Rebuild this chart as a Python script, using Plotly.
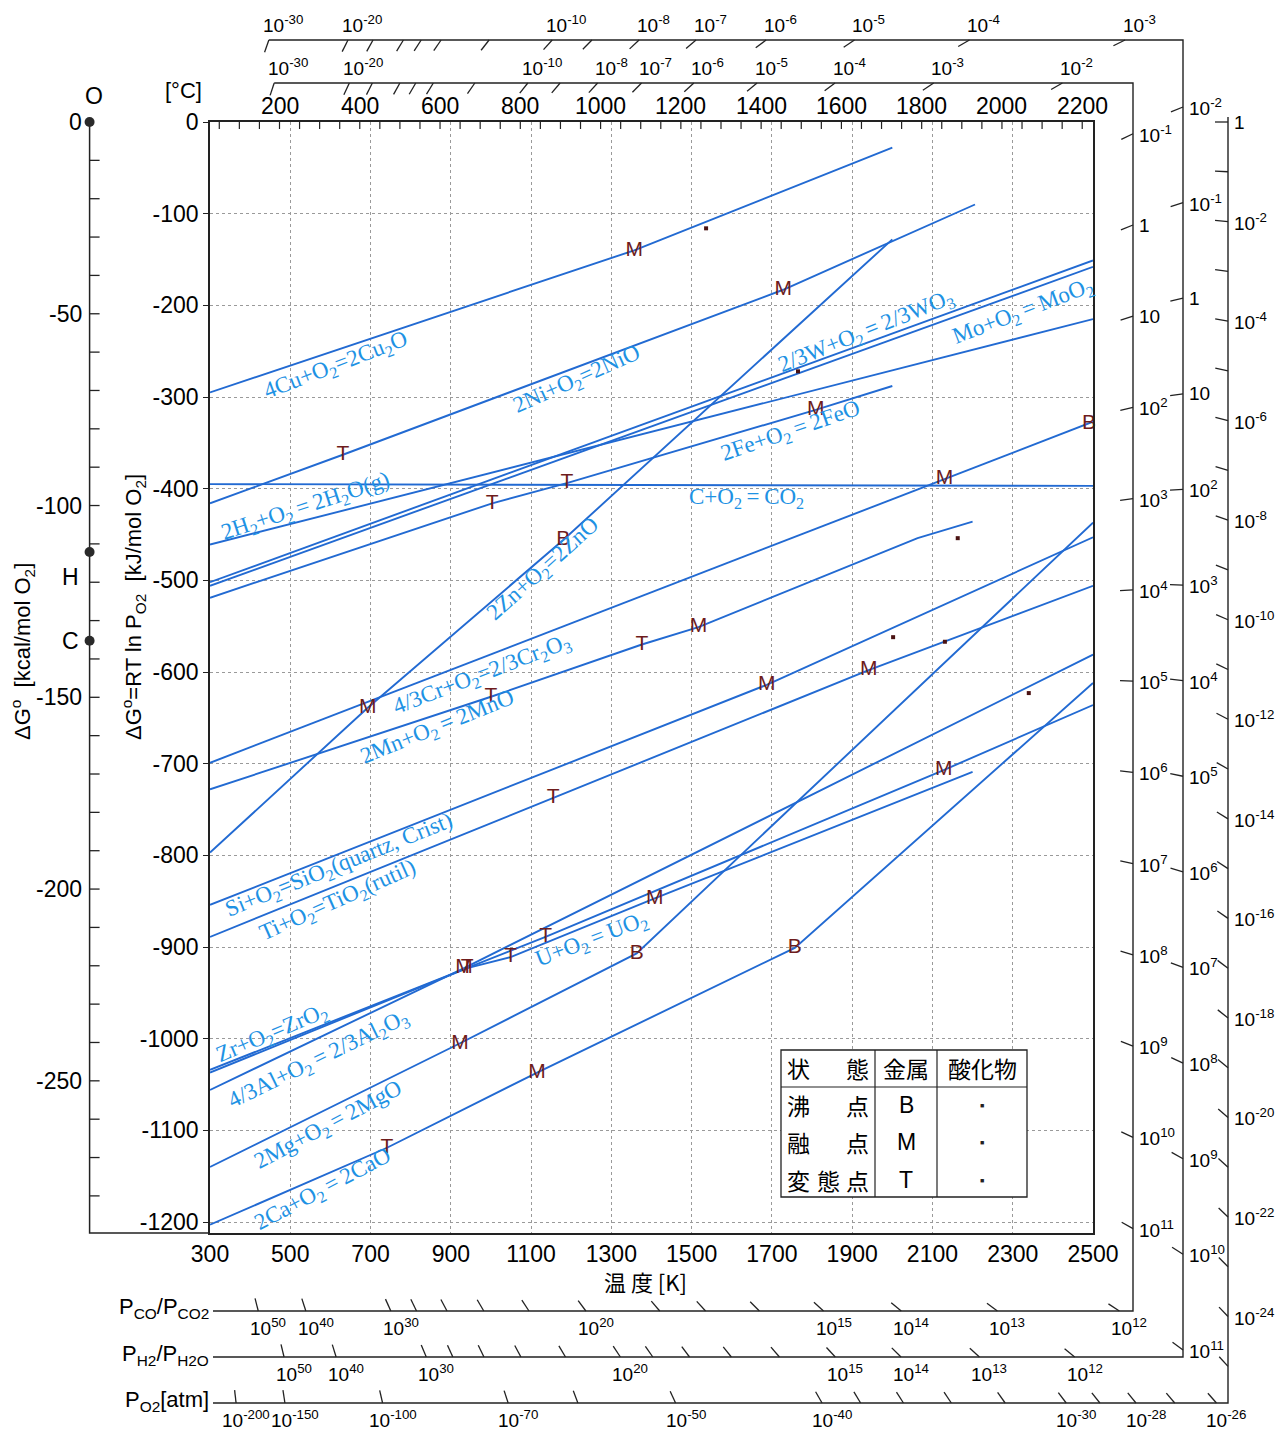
import numpy as np
import plotly.graph_objects as go

# ---------------- data ----------------
R = 8.314e-3          # kJ/(mol K)
LN10 = np.log(10.0)
KCAL = 4.184          # kJ per kcal

# Ellingham lines: temperature [K] and dG [kJ/mol O2]
CU_T = [300, 1357, 2000];               CU_G = [-295, -140, -28]
NI_T = [300, 631, 1728, 2206];          NI_G = [-416, -363, -183, -90]
W_T = [300, 2500];                      W_G = [-502, -151]
MO_T = [300, 2500];                     MO_G = [-506, -158]
H2O_T = [300, 2500];                    H2O_G = [-461, -215]
FE_T = [300, 1003, 1189, 1809, 2000];   FE_G = [-519, -416, -394, -314, -288]
C_T = [300, 2500];                      C_G = [-395, -397]
ZN_T = [300, 693, 1180, 2000];          ZN_G = [-797, -639, -456, -128]
CR_T = [300, 2500];                     CR_G = [-699, -327]
MN_T = [300, 1000, 1376, 1517, 2063, 2200]; MN_G = [-728, -627, -570, -551, -454, -436]
SI_T = [300, 1687, 2500];               SI_G = [-854, -614, -453]
TI_T = [300, 1155, 1941, 2500];         TI_G = [-889, -737, -598, -506]
ZR_T = [300, 1136, 2128, 2500];         ZR_G = [-1034, -889, -707, -636]
AL_T = [300, 933, 2500];                AL_G = [-1056, -923, -581]
U_T = [300, 941, 1049, 1408, 2200];     U_G = [-1037, -923, -911, -847, -709]
MG_T = [300, 923, 1363, 2500];          MG_G = [-1140, -1005, -907, -437]
CA_T = [300, 741, 1115, 1757, 2500];    CA_G = [-1203, -1119, -1037, -901, -612]

REACT = {"Cu": (CU_T, CU_G), "Ni": (NI_T, NI_G), "W": (W_T, W_G), "Mo": (MO_T, MO_G),
         "H2O": (H2O_T, H2O_G), "Fe": (FE_T, FE_G), "C": (C_T, C_G), "Zn": (ZN_T, ZN_G),
         "Cr": (CR_T, CR_G), "Mn": (MN_T, MN_G), "Si": (SI_T, SI_G), "Ti": (TI_T, TI_G),
         "Zr": (ZR_T, ZR_G), "Al": (AL_T, AL_G), "U": (U_T, U_G), "Mg": (MG_T, MG_G),
         "Ca": (CA_T, CA_G)}

# metal transitions (reaction, T, kind)
MARKS = [("Cu", 1357, "M"), ("Ni", 631, "T"), ("Ni", 1728, "M"),
         ("Fe", 1003, "T"), ("Fe", 1189, "T"), ("Fe", 1809, "M"),
         ("Zn", 693, "M"), ("Zn", 1180, "B"), ("Cr", 2130, "M"), ("Cr", 2490, "B"),
         ("Mn", 1000, "T"), ("Mn", 1376, "T"), ("Mn", 1517, "M"), ("Si", 1687, "M"),
         ("Ti", 1155, "T"), ("Ti", 1941, "M"), ("Zr", 1136, "T"), ("Zr", 2128, "M"),
         ("Al", 933, "M"), ("U", 941, "T"), ("U", 1049, "T"), ("U", 1408, "M"),
         ("Mg", 923, "M"), ("Mg", 1363, "B"), ("Ca", 741, "T"), ("Ca", 1115, "M"),
         ("Ca", 1757, "B")]

# oxide melting points
OX_T = [1536, 1765, 2163, 2002, 2131, 2340]
OX_G = [-116, -272, -454, -562, -567, -623]

# nomograph pivot points (T = 0 K): dG intercept and slope factor
G_H, A_H = -469.0, 0.1016   # 2H2 + O2 = 2H2O
G_C, A_C = -566.0, 0.1745   # 2CO + O2 = 2CO2

O2_EXP = list(range(0, -26, -1)) + [-26, -27, -28, -29, -30, -32, -34, -36, -38, -40,
                                    -50, -60, -70, -100, -150, -200]
O2_LAB = list(range(0, -25, -2)) + [-26, -28, -30, -40, -50, -70, -100, -150, -200]
H2_EXP = [-30, -20, -18, -16, -15, -14, -12, -10, -9, -8, -7, -6, -5, -4, -3] + \
         list(range(-2, 12)) + [12, 13, 14, 15, 16, 17, 18, 19, 20, 22, 24, 26, 28, 30, 40, 50]
H2_LAB = [-30, -20, -10, -8, -7, -6, -5, -4, -3] + list(range(-2, 12)) + \
         [12, 13, 14, 15, 20, 30, 40, 50]
CO_EXP = [-30, -20, -18, -16, -15, -14, -12, -10, -9, -8, -7, -6, -5, -4, -3, -2] + \
         list(range(-1, 12)) + [12, 13, 14, 15, 16, 17, 18, 20, 22, 24, 26, 28, 30, 40, 50]
CO_LAB = [-30, -20, -10, -8, -7, -6, -5, -4, -3, -2] + list(range(-1, 12)) + \
         [12, 13, 14, 15, 20, 30, 40, 50]

K_TICKS = list(range(300, 2501, 200))
KJ_TICKS = list(range(0, -1201, -100))
C_LABELS = list(range(200, 2201, 200))
KCAL_LABELS = [0, -50, -100, -150, -200, -250]

# ---------------- layout geometry (pixels) ----------------
W, H = 1288, 1430
PX_L, PX_R, PX_T, PX_B = 210, 1093, 122, 1233
T_MIN, T_MAX = 300, 2500
G_MIN, G_MAX = -1212, 0
SX = (PX_R - PX_L) / (T_MAX - T_MIN)
SY = (PX_B - PX_T) / (G_MAX - G_MIN)

def T_of(px):
    return T_MIN + (px - PX_L) / SX

def G_of(py):
    return G_MAX - (py - PX_T) / SY

SANS = "Liberation Sans, Arial, sans-serif"
SERIF = "Liberation Serif, Times New Roman, serif"
CJK = "Noto Sans CJK JP, sans-serif"
LINE_C = "rgb(34,106,210)"
LAB_C = "rgb(30,146,228)"
MK_C = "#6e1c1c"
AX_C = "#222222"

fig = go.Figure()

for key, (tt, gg) in REACT.items():
    fig.add_trace(go.Scatter(x=tt, y=gg, mode="lines", line=dict(color=LINE_C, width=1.9),
                             hoverinfo="skip", showlegend=False, xaxis="x", yaxis="y"))

mx, my, mt = [], [], []
for key, t, s in MARKS:
    tt, gg = REACT[key]
    mx.append(t); my.append(float(np.interp(t, tt, gg))); mt.append(s)
fig.add_trace(go.Scatter(x=mx, y=my, mode="text", text=mt, textposition="middle center",
                         textfont=dict(family=SANS, size=21, color=MK_C), cliponaxis=False,
                         hoverinfo="skip", showlegend=False, xaxis="x", yaxis="y"))
fig.add_trace(go.Scatter(x=OX_T, y=OX_G, mode="markers",
                         marker=dict(symbol="square", size=4, color="#4a1212"),
                         hoverinfo="skip", showlegend=False, xaxis="x", yaxis="y"))

ann = []

def AD(text, x, y, size=19, family=SANS, color="black", xa="center", ya="middle", angle=0):
    ann.append(dict(text=text, x=x, y=y, xref="x2", yref="y2", showarrow=False,
                    xanchor=xa, yanchor=ya, textangle=angle,
                    font=dict(size=size, family=family, color=color)))

def AP(text, px, py, **kw):
    AD(text, T_of(px), G_of(py), **kw)

def lab(e):
    if e == 0:
        return "1"
    if e == 1:
        return "10"
    return "10<sup>%d</sup>" % e

def ray_hit(g0, slope, gtop, tr, gb):
    if gtop is not None and slope > 0:
        t = (gtop - g0) / slope
        if t <= tr:
            return t, gtop, "top"
    g = g0 + slope * tr
    if g >= gb:
        return tr, g, "right"
    return (gb - g0) / slope, gb, "bottom"

TICK_L = 13

def draw_scale(g0, slope_fn, exps, labeled, top_px, right_px, bot_px):
    gtop = G_of(top_px) if top_px is not None else None
    tr = T_of(right_px); gb = G_of(bot_px)
    xs, ys = [], []
    first_T = None
    for e in exps:
        T, G, side = ray_hit(g0, slope_fn(e), gtop, tr, gb)
        dxp = (0 - T) * SX
        dyp = (G - g0) * SY
        n = np.hypot(dxp, dyp)
        T2 = T + dxp / n * TICK_L / SX
        G2 = G - dyp / n * TICK_L / SY
        xs += [T, T2, None]; ys += [G, G2, None]
        if e == exps[0] and side == "top":
            first_T = T
        if e in labeled:
            if side == "top":
                AD(lab(e), T + 14 / SX, G + 2 / SY, ya="bottom")
            elif side == "right":
                AD(lab(e), T + 4 / SX, G, xa="left")
            else:
                AD(lab(e), T + 10 / SX, G - 2 / SY, ya="top")
    fig.add_trace(go.Scatter(x=xs, y=ys, mode="lines", line=dict(color=AX_C, width=1.3),
                             hoverinfo="skip", showlegend=False, xaxis="x2", yaxis="y2"))
    if top_px is not None:
        fx = [first_T, tr, tr, T_of(213)]
        fy = [gtop, gtop, gb, gb]
    else:
        fx = [tr, tr, T_of(213)]
        fy = [G_of(117), gb, gb]
    fig.add_trace(go.Scatter(x=fx, y=fy, mode="lines", line=dict(color=AX_C, width=1.4),
                             hoverinfo="skip", showlegend=False, xaxis="x2", yaxis="y2"))

draw_scale(0.0, lambda e: R * LN10 * e, O2_EXP, O2_LAB, None, 1228, 1403)
draw_scale(G_H, lambda e: A_H - 2 * R * LN10 * e, H2_EXP, H2_LAB, 40, 1183, 1357)
draw_scale(G_C, lambda e: A_C - 2 * R * LN10 * e, CO_EXP, CO_LAB, 83, 1133, 1311)

# kcal axis at T = 0
fig.add_trace(go.Scatter(x=[0, 0, T_MIN], y=[0, G_MIN, G_MIN], mode="lines",
                         line=dict(color=AX_C, width=1.5), hoverinfo="skip",
                         showlegend=False, xaxis="x2", yaxis="y2"))
kx, ky = [], []
for k in range(-10, -281, -10):
    kx += [0, 10 / SX, None]; ky += [k * KCAL, k * KCAL, None]
fig.add_trace(go.Scatter(x=kx, y=ky, mode="lines", line=dict(color=AX_C, width=1.3),
                         hoverinfo="skip", showlegend=False, xaxis="x2", yaxis="y2"))
for k in KCAL_LABELS:
    AD(str(k), -6 / SX, k * KCAL, size=23, xa="right")
fig.add_trace(go.Scatter(x=[0, 0, 0], y=[0, G_H, G_C], mode="markers",
                         marker=dict(size=10, color="#2a2a2a"), hoverinfo="skip",
                         showlegend=False, xaxis="x2", yaxis="y2"))
AP("O", 94, 96, size=23)
AP("H", 70, 577, size=23)
AP("C", 70, 641, size=23)

# Celsius scale on top of the frame
cx, cy = [], []
for c in range(50, 2251, 50):
    t = c + 273.15
    if T_MIN < t < T_MAX:
        cx += [t, t, None]; cy += [0, -7 / SY, None]
fig.add_trace(go.Scatter(x=cx, y=cy, mode="lines", line=dict(color=AX_C, width=1.2),
                         hoverinfo="skip", showlegend=False, xaxis="x2", yaxis="y2"))
for c in C_LABELS:
    AD(str(c), c + 273.15, G_of(106), size=23)
AP("[°C]", 183, 90, size=22)

# axis titles
AP("ΔG<sup>o</sup>  [kcal/mol O<sub>2</sub>]", 22, 652, size=22, angle=-90)
AP("ΔG<sup>o</sup>=RT ln P<sub>O2</sub>  [kJ/mol O<sub>2</sub>]", 133, 607, size=22, angle=-90)
AP("温 度 [K]", 645, 1281, size=22, family=CJK)
AP("P<sub>CO</sub>/P<sub>CO2</sub>", 211, 1308, size=22, xa="right")
AP("P<sub>H2</sub>/P<sub>H2O</sub>", 211, 1355, size=22, xa="right")
AP("P<sub>O2</sub>[atm]", 211, 1401, size=22, xa="right")

# reaction labels
TS = "\u2009=\u2009"
LABELS = [
    ("4Cu+O<sub>2</sub>=2Cu<sub>2</sub>O", 336, 366, -21),
    ("2Ni+O<sub>2</sub>=2NiO", 577, 380, -24),
    ("2/3W+O<sub>2</sub>" + TS + "2/3WO<sub>3</sub>", 866, 332, -22),
    ("Mo+O<sub>2</sub>" + TS + "MoO<sub>2</sub>", 1023, 312, -21),
    ("2Fe+O<sub>2</sub>" + TS + "2FeO", 790, 432, -19),
    ("2H<sub>2</sub>+O<sub>2</sub>" + TS + "2H<sub>2</sub>O(g)", 306, 507, -18),
    ("C+O<sub>2</sub>" + TS + "CO<sub>2</sub>", 746, 498, 0),
    ("2Zn+O<sub>2</sub>=2ZnO", 543, 570, -42),
    ("4/3Cr+O<sub>2</sub>=2/3Cr<sub>2</sub>O<sub>3</sub>", 482, 675, -21),
    ("2Mn+O<sub>2</sub>" + TS + "2MnO", 437, 728, -22),
    ("Si+O<sub>2</sub>=SiO<sub>2</sub>(quartz, Crist)", 339, 866, -22),
    ("Ti+O<sub>2</sub>=TiO<sub>2</sub>(rutil)", 338, 901, -24),
    ("U+O<sub>2</sub>" + TS + "UO<sub>2</sub>", 592, 940, -21),
    ("Zr+O<sub>2</sub>=ZrO<sub>2</sub>", 272, 1034, -23),
    ("4/3Al+O<sub>2</sub>" + TS + "2/3Al<sub>2</sub>O<sub>3</sub>", 318, 1060, -26),
    ("2Mg+O<sub>2</sub>" + TS + "2MgO", 328, 1126, -28),
    ("2Ca+O<sub>2</sub>" + TS + "2CaO", 323, 1190, -28),
]
for txt, px, py, ang in LABELS:
    AP(txt, px, py, size=23, family=SERIF, color=LAB_C, angle=ang)

# legend table
TB_L, TB_C1, TB_C2, TB_R = 781, 875, 937, 1027
TB_T, TB_H, TB_B = 1050, 1087, 1197
shapes = [
    dict(type="rect", xref="x2", yref="y2", x0=T_of(TB_L), x1=T_of(TB_R), y0=G_of(TB_T), y1=G_of(TB_B),
         line=dict(color=AX_C, width=1.3), fillcolor="white", layer="above"),
    dict(type="line", xref="x2", yref="y2", x0=T_of(TB_C1), x1=T_of(TB_C1), y0=G_of(TB_T), y1=G_of(TB_B),
         line=dict(color=AX_C, width=1.2), layer="above"),
    dict(type="line", xref="x2", yref="y2", x0=T_of(TB_C2), x1=T_of(TB_C2), y0=G_of(TB_T), y1=G_of(TB_B),
         line=dict(color=AX_C, width=1.2), layer="above"),
    dict(type="line", xref="x2", yref="y2", x0=T_of(TB_L), x1=T_of(TB_R), y0=G_of(TB_H), y1=G_of(TB_H),
         line=dict(color=AX_C, width=1.2), layer="above"),
]
ROWS = [1068, 1105, 1142, 1180]
AP("状", 798, ROWS[0], size=23, family=CJK); AP("態", 857, ROWS[0], size=23, family=CJK)
AP("金属", 906, ROWS[0], size=23, family=CJK); AP("酸化物", 982, ROWS[0], size=23, family=CJK)
AP("沸", 798, ROWS[1], size=23, family=CJK); AP("点", 857, ROWS[1], size=23, family=CJK)
AP("融", 798, ROWS[2], size=23, family=CJK); AP("点", 857, ROWS[2], size=23, family=CJK)
AP("変", 798, ROWS[3], size=23, family=CJK); AP("態", 828, ROWS[3], size=23, family=CJK)
AP("点", 857, ROWS[3], size=23, family=CJK)
for r, s in zip(ROWS[1:], ["B", "M", "T"]):
    AP(s, 906, r, size=23)
    AP("■", 982, r, size=7, color="#222")

fig.update_layout(
    template="none",
    width=W, height=H, autosize=False, margin=dict(l=0, r=0, t=0, b=0, pad=0, autoexpand=False),
    paper_bgcolor="white", plot_bgcolor="rgba(0,0,0,0)", showlegend=False,
    font=dict(family=SANS, color="black"),
    xaxis=dict(domain=[PX_L / W, PX_R / W], range=[T_MIN, T_MAX], tickvals=K_TICKS,
               ticktext=[str(v) for v in K_TICKS], ticks="", showgrid=True,
               gridcolor="#9a9a9a", griddash="dot", gridwidth=1, zeroline=False,
               showline=True, mirror=True, linecolor=AX_C, linewidth=1.6, automargin=False,
               tickfont=dict(family=SANS, size=23, color="black"), fixedrange=True),
    yaxis=dict(domain=[1 - PX_B / H, 1 - PX_T / H], range=[G_MIN, G_MAX], tickvals=KJ_TICKS,
               ticktext=[str(v) for v in KJ_TICKS], ticks="outside", ticklen=5,
               tickcolor=AX_C, showgrid=True, gridcolor="#9a9a9a", griddash="dot",
               gridwidth=1, zeroline=False, showline=True, mirror=True, linecolor=AX_C,
               linewidth=1.6, tickfont=dict(family=SANS, size=23, color="black"),
               automargin=False, fixedrange=True),
    xaxis2=dict(domain=[0, 1], range=[T_of(0), T_of(W)], visible=False, anchor="y2",
                automargin=False, fixedrange=True),
    yaxis2=dict(domain=[0, 1], range=[G_of(H), G_of(0)], visible=False, anchor="x2",
                automargin=False, fixedrange=True),
    annotations=ann, shapes=shapes,
)

fig.write_html("out.html", config={"displayModeBar": False},
               post_script="document.body.style.margin='0';")
